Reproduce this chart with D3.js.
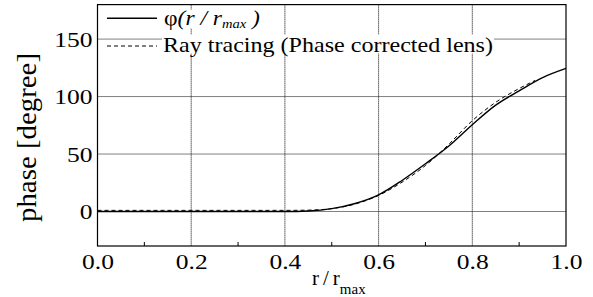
<!DOCTYPE html>
<html>
<head>
<meta charset="utf-8">
<script src="https://cdn.jsdelivr.net/npm/d3@7"></script>
<style>
  body { margin: 0; background: #fff; }
  text { font-family: "Liberation Serif", "Times New Roman", serif; fill: #000; }
</style>
</head>
<body>
<svg id="chart" width="593" height="297"></svg>
<script>
// phase of the lens profile phi(r/rmax)
let phiR   = [0, 0.1, 0.2, 0.3, 0.4, 0.45, 0.5, 0.55, 0.6, 0.65, 0.7, 0.75, 0.8, 0.85, 0.9, 0.95, 1.0]
let phiVal = [0, 0, 0, 0, 0, 0.5, 2.5, 7, 14.5, 27, 41.5, 57, 75.5, 92.5, 105, 116.5, 124.5]
// ray tracing (phase corrected lens)
let rayR   = [0, 0.1, 0.2, 0.3, 0.4, 0.45, 0.5, 0.55, 0.6, 0.65, 0.7, 0.75, 0.8, 0.85, 0.9, 0.934]
let rayVal = [1, 1, 1, 1, 1, 1.2, 2.5, 6.5, 14, 25.5, 40, 58.5, 79, 95, 107, 114]

let xTicks = [0, 0.2, 0.4, 0.6, 0.8, 1.0]
let xMinor = [0.1, 0.3, 0.5, 0.7, 0.9]
let yTicks = [0, 50, 100, 150]

let pL = 97.5, pR = 566, pT = 4.6, pB = 246

let svg = d3.select("#chart")
let xScale = d3.scaleLinear().domain([0, 1]).range([pL, pR])
let yScale = d3.scaleLinear().domain([-30, 180]).range([pB, pT])

// the original type is a bit wider than Liberation Serif: stretch about the anchor x
function stretch(sel, sx) {
  sel.each(function () {
    let t = d3.select(this)
    let ax = +t.attr("x") || 0
    t.attr("transform", `translate(${ax},0) scale(${sx},1) translate(${-ax},0)`)
  })
}

// grid
let grid = svg.append("g").attr("class", "grid")
grid.selectAll(".vg").data(xTicks.slice(1, -1)).enter().append("line")
    .attr("x1", d => xScale(d)).attr("x2", d => xScale(d))
    .attr("y1", pT).attr("y2", pB)
    .attr("stroke", "#000").attr("stroke-width", 1).attr("stroke-dasharray", "1,1")
grid.selectAll(".hg").data(yTicks).enter().append("line")
    .attr("x1", pL).attr("x2", pR)
    .attr("y1", d => yScale(d)).attr("y2", d => yScale(d))
    .attr("stroke", "#000").attr("stroke-width", 1).attr("stroke-dasharray", "1,1")

// curves
let line = d3.line().x(d => xScale(d[0])).y(d => yScale(d[1])).curve(d3.curveMonotoneX)
svg.append("path").datum(d3.zip(phiR, phiVal))
    .attr("d", line).attr("fill", "none").attr("stroke", "#000").attr("stroke-width", 1.4)
svg.append("path").datum(d3.zip(rayR, rayVal))
    .attr("d", line).attr("fill", "none").attr("stroke", "#000").attr("stroke-width", 1)
    .attr("stroke-dasharray", "4,3")

// frame
svg.append("rect").attr("x", pL).attr("y", pT)
    .attr("width", pR - pL).attr("height", pB - pT)
    .attr("fill", "none").attr("stroke", "#000").attr("stroke-width", 1.2)

// x axis
let xAxis = d3.axisBottom(xScale).tickValues(xTicks).tickFormat(d3.format(".1f")).tickSize(0).tickPadding(7)
let gx = svg.append("g").attr("transform", `translate(0,${pB})`).call(xAxis)
gx.select(".domain").remove()
gx.selectAll("text").attr("font-size", 22).style("font-family", "Liberation Serif")
stretch(gx.selectAll("text"), 1.16)
svg.selectAll(".minor").data(xMinor).enter().append("line")
    .attr("x1", d => xScale(d)).attr("x2", d => xScale(d))
    .attr("y1", pB).attr("y2", pB - 4)
    .attr("stroke", "#000").attr("stroke-width", 1)

// y axis
let yAxis = d3.axisLeft(yScale).tickValues(yTicks).tickSize(0).tickPadding(5)
let gy = svg.append("g").attr("transform", `translate(${pL},0)`).call(yAxis)
gy.select(".domain").remove()
gy.selectAll("text").attr("font-size", 22).style("font-family", "Liberation Serif")
stretch(gy.selectAll("text"), 1.16)

// axis labels
let xl = svg.append("text").attr("x", 312).attr("y", 285).attr("font-size", 21)
xl.append("tspan").attr("letter-spacing", 4).text("r/")
xl.append("tspan").text("r")
xl.append("tspan").attr("font-size", 15).attr("dy", 9).text("max")

svg.append("text")
    .attr("transform", `translate(36,137.5) rotate(-90)`)
    .attr("text-anchor", "middle").attr("font-size", 27)
    .attr("textLength", 169).attr("lengthAdjust", "spacingAndGlyphs")
    .text("phase [degree]")

// legend
let legend = [
  {y: 18.3, dash: null, w: 1.4},
  {y: 46, dash: "4,3", w: 1}
]
let lg = svg.append("g")
lg.selectAll(".ll").data(legend).enter().append("line")
    .attr("x1", 107).attr("x2", 157)
    .attr("y1", d => d.y).attr("y2", d => d.y)
    .attr("stroke", "#000").attr("stroke-width", d => d.w)
    .attr("stroke-dasharray", d => d.dash)

let t1 = lg.append("text").attr("x", 164).attr("y", 25.5).attr("font-size", 21)
t1.append("tspan").text("\u03c6")
t1.append("tspan").attr("font-style", "italic").text("(r / r")
t1.append("tspan").attr("font-style", "italic").attr("font-size", 13).attr("dy", 3).text("max")
t1.append("tspan").attr("font-style", "italic").attr("dy", -3).text(" )")
stretch(t1, 1.12)

let t2 = lg.append("text").attr("x", 163).attr("y", 51.5).attr("font-size", 22)
    .attr("textLength", 330).attr("lengthAdjust", "spacingAndGlyphs")
    .text("Ray tracing (Phase corrected lens)")

// white boxes behind legend texts
;[t1, t2].forEach((t, i) => {
  let b = t.node().getBBox()
  let sx = i === 0 ? 1.12 : 1
  let x0 = +t.attr("x")
  lg.insert("rect", "text").attr("x", x0 + (b.x - x0) * sx - 1).attr("y", b.y + 3)
    .attr("width", b.width * sx + 2).attr("height", b.height - 6).attr("fill", "#fff")
})
</script>
</body>
</html>
